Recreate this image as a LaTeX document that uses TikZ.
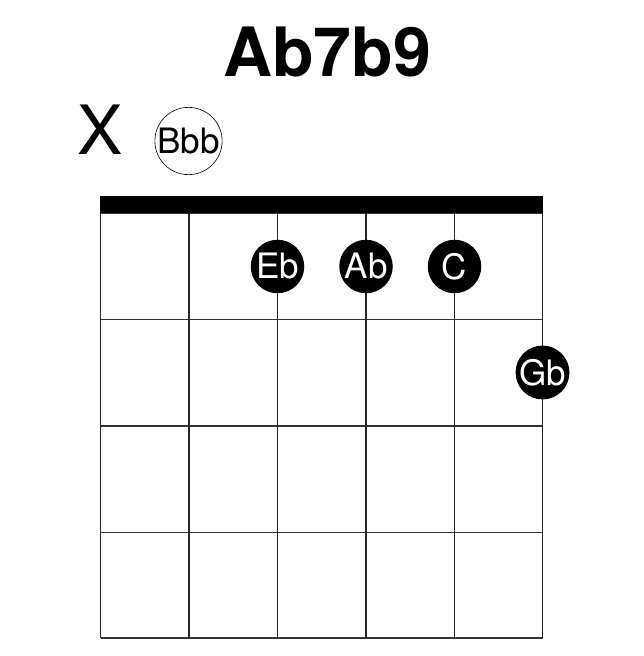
\documentclass[tikz,border=0pt]{standalone}
\usepackage{fontspec}
\setmainfont{TeX Gyre Heros}
\usepackage{tikz}
\usetikzlibrary{positioning}

\tikzset{
  note/.style={circle, fill=black, minimum size=53.5pt, inner sep=0pt, text=white,
    font=\fontsize{35}{35}\selectfont},
  opennote/.style={circle, draw=black, line width=0.6pt, minimum size=54pt, inner sep=0pt,
    font=\fontsize{35}{35}\selectfont},
  fretline/.style={line width=1.2pt, color=black!80},
  stringline/.style={line width=1.2pt, color=black!85}
}

\begin{document}
\begin{tikzpicture}[x=1pt, y=-1pt]

\useasboundingbox (0,0) rectangle (644,656);

\node (title) at (327,52) {\fontsize{68}{68}\selectfont\bfseries Ab7b9};

\node (mute) at (100,130) {\fontsize{68}{68}\selectfont X};

\foreach \y in {213,319.5,426,532.5,638} % frets
\draw[fretline] (100.5,\y) -- (542.5,\y);
\foreach \x in {100.5,189,277.5,366,454.5,542.5} % strings
\draw[stringline] (\x,213) -- (\x,638);

\fill (100,195.5) rectangle (543,213);

\node[opennote] (bbb) at (188.5,141) {Bbb};

\node[note] (eb) at (277.5,266.5) {Eb};
\node[note] (ab) at (366,266.5) {Ab};
\node[note] (c) at (454.5,266.5) {C};
\node[note] (gb) at (542.5,372.5) {Gb};

\end{tikzpicture}
\end{document}
